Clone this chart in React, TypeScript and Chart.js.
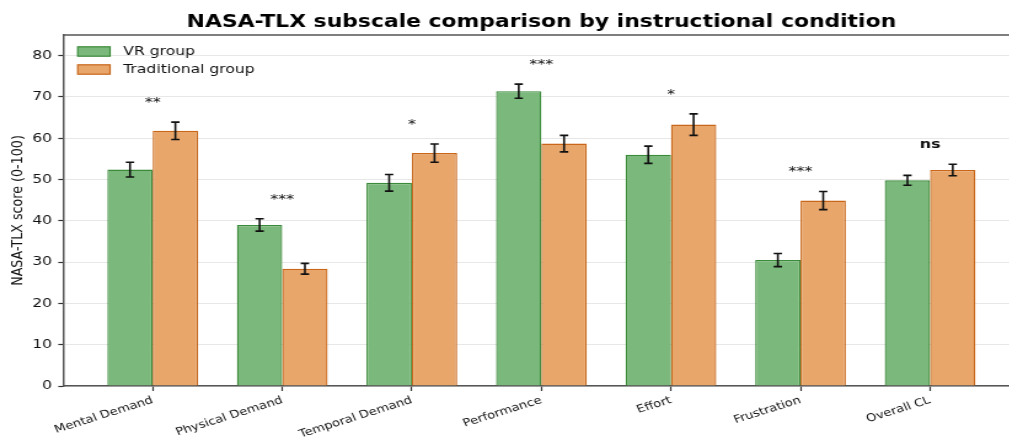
import React, { useEffect, useRef } from 'react';
import { Chart, registerables } from 'chart.js';

Chart.register(...registerables);

// NASA-TLX subscales and group means / standard errors
const categories = [
  'Mental Demand',
  'Physical Demand',
  'Temporal Demand',
  'Performance',
  'Effort',
  'Frustration',
  'Overall CL',
];
const vrScores = [52.4, 39.0, 49.2, 71.4, 56.0, 30.5, 49.8];
const vrErrors = [1.8, 1.5, 2.0, 1.7, 2.1, 1.6, 1.2];
const tradScores = [61.8, 28.4, 56.4, 58.7, 63.3, 44.9, 52.3];
const tradErrors = [2.1, 1.3, 2.2, 2.0, 2.6, 2.2, 1.4];
const significance = ['**', '***', '*', '***', '*', '***', 'ns'];
const yTicks = [0, 10, 20, 30, 40, 50, 60, 70, 80];

const TITLE = 'NASA-TLX subscale comparison by instructional condition';
const Y_TITLE = 'NASA-TLX score (0-100)';
const FONT = "'DejaVu Sans', sans-serif";

const GREEN_FILL = '#7bb87b';
const GREEN_EDGE = '#3a8a3a';
const ORANGE_FILL = '#e8a66b';
const ORANGE_EDGE = '#c8661a';

// drawing surface is rendered narrow and widened by CSS
const CANVAS_W = 845;
const CANVAS_H = 441;
const WIDEN = 1.23;
const PLOT_LEFT = 52;
const PLOT_RIGHT = 828.6;
const PLOT_TOP = 35;
const PLOT_BOTTOM = 386;

export default function App() {
  const ref = useRef<HTMLCanvasElement | null>(null);

  useEffect(() => {
    const canvas = ref.current;
    if (!canvas) return;

    const overlay = {
      id: 'overlay',
      afterDraw(chart: any) {
        const ctx = chart.ctx as CanvasRenderingContext2D;
        const area = chart.chartArea;
        const ys = chart.scales.y;
        const xs = chart.scales.x;

        ctx.save();
        // top spine
        ctx.strokeStyle = '#555';
        ctx.lineWidth = 1.5;
        ctx.beginPath();
        ctx.moveTo(area.left, area.top);
        ctx.lineTo(area.right, area.top);
        ctx.stroke();

        // error bars
        const groups = [
          { values: vrScores, errors: vrErrors },
          { values: tradScores, errors: tradErrors },
        ];
        ctx.strokeStyle = '#111';
        ctx.lineWidth = 1.6;
        groups.forEach((g, d) => {
          const meta = chart.getDatasetMeta(d);
          meta.data.forEach((bar: any, i: number) => {
            const hi = ys.getPixelForValue(g.values[i] + g.errors[i]);
            const lo = ys.getPixelForValue(g.values[i] - g.errors[i]);
            const x = bar.x;
            const cap = 3.4;
            ctx.beginPath();
            ctx.moveTo(x, hi);
            ctx.lineTo(x, lo);
            ctx.moveTo(x - cap, hi);
            ctx.lineTo(x + cap, hi);
            ctx.moveTo(x - cap, lo);
            ctx.lineTo(x + cap, lo);
            ctx.stroke();
          });
        });

        // significance markers above each pair
        ctx.fillStyle = '#111';
        ctx.textAlign = 'center';
        ctx.textBaseline = 'alphabetic';
        significance.forEach((s, i) => {
          const top = Math.max(vrScores[i] + vrErrors[i], tradScores[i] + tradErrors[i]);
          const y = ys.getPixelForValue(top + 3.9);
          const x = xs.getPixelForValue(i);
          ctx.font = s === 'ns' ? `bold 13px ${FONT}` : `13px ${FONT}`;
          ctx.fillText(s, x, y);
        });

        // legend
        const items = [
          { label: 'VR group', fill: GREEN_FILL, edge: GREEN_EDGE },
          { label: 'Traditional group', fill: ORANGE_FILL, edge: ORANGE_EDGE },
        ];
        ctx.font = `12.7px ${FONT}`;
        ctx.textAlign = 'left';
        ctx.textBaseline = 'middle';
        items.forEach((it, k) => {
          const cy = area.top + 16.5 + k * 18;
          const bx = area.left + 11.2;
          ctx.fillStyle = it.fill;
          ctx.fillRect(bx, cy - 4.7, 26.3, 9.4);
          ctx.strokeStyle = it.edge;
          ctx.lineWidth = 1.2;
          ctx.strokeRect(bx, cy - 4.7, 26.3, 9.4);
          ctx.fillStyle = '#111';
          ctx.fillText(it.label, area.left + 48.2, cy + 0.5);
        });

        // title
        ctx.font = `bold 17.8px ${FONT}`;
        ctx.textAlign = 'center';
        ctx.textBaseline = 'alphabetic';
        ctx.fillStyle = '#000';
        ctx.fillText(TITLE, (area.left + area.right) / 2, 26.5);
        ctx.restore();
      },
    };

    const chart = new Chart(canvas, {
      type: 'bar',
      data: {
        datasets: [
          {
            label: 'VR group',
            data: vrScores.map((y, i) => ({ x: i, y })),
            backgroundColor: GREEN_FILL,
            borderColor: GREEN_EDGE,
            borderWidth: 1.3,
            categoryPercentage: 0.7,
            barPercentage: 1,
          },
          {
            label: 'Traditional group',
            data: tradScores.map((y, i) => ({ x: i, y })),
            backgroundColor: ORANGE_FILL,
            borderColor: ORANGE_EDGE,
            borderWidth: 1.3,
            categoryPercentage: 0.7,
            barPercentage: 1,
          },
        ],
      },
      options: {
        animation: false,
        responsive: false,
        maintainAspectRatio: false,
        devicePixelRatio: 1,
        layout: { padding: { top: PLOT_TOP, left: 0, right: CANVAS_W - PLOT_RIGHT, bottom: 0 } },
        plugins: {
          legend: { display: false },
          title: { display: false },
          tooltip: { enabled: false },
        },
        scales: {
          x: {
            type: 'linear',
            offset: false,
            min: -0.685,
            max: 6.685,
            afterBuildTicks(scale: any) {
              scale.ticks = categories.map((_, i) => ({ value: i }));
            },
            afterFit(scale: any) {
              scale.height = CANVAS_H - PLOT_BOTTOM;
            },
            ticks: {
              autoSkip: false,
              minRotation: 21,
              maxRotation: 21,
              padding: 3,
              color: '#111',
              font: { family: FONT, size: 10.7 },
              callback: (v: any) => categories[v as number] ?? '',
            },
            grid: {
              offset: false,
              drawOnChartArea: false,
              drawTicks: true,
              tickLength: 5,
              tickColor: '#333',
              tickWidth: 1.2,
            },
            border: { display: true, color: '#555', width: 1.5 },
          },
          y: {
            min: 0,
            max: 85,
            z: 1,
            afterBuildTicks(scale: any) {
              scale.ticks = yTicks.map((v) => ({ value: v }));
            },
            afterFit(scale: any) {
              scale.width = PLOT_LEFT;
            },
            ticks: {
              padding: 5,
              color: '#111',
              font: { family: FONT, size: 12.7 },
            },
            grid: {
              color: 'rgba(176,176,176,0.3)',
              lineWidth: 1,
              tickLength: 4.6,
              tickColor: '#333',
              tickWidth: 1.2,
            },
            border: { display: true, color: '#555', width: 1.5 },
            title: {
              display: true,
              text: Y_TITLE,
              color: '#111',
              font: { family: FONT, size: 12.7 },
              padding: { top: 7, bottom: 0 },
            },
          },
        },
      },
      plugins: [overlay],
    } as any);

    return () => chart.destroy();
  }, []);

  return (
    <div
      style={{
        position: 'fixed',
        left: 0,
        top: 0,
        width: 1009,
        height: 441,
        overflow: 'hidden',
        background: '#fff',
      }}
    >
      <canvas
        ref={ref}
        width={CANVAS_W}
        height={CANVAS_H}
        style={{ width: `${CANVAS_W * WIDEN}px`, height: `${CANVAS_H}px`, display: 'block' }}
      />
    </div>
  );
}
